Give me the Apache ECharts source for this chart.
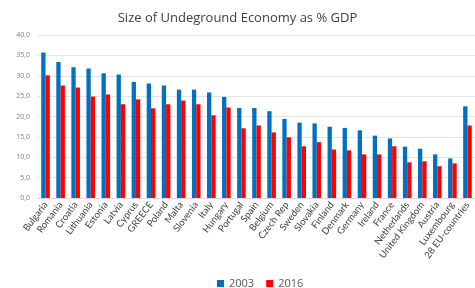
<!DOCTYPE html>
<html>
<head>
<meta charset="utf-8">
<script src="https://cdn.jsdelivr.net/npm/echarts@6/dist/echarts.min.js"></script>
<style>
html, body { margin: 0; padding: 0; background: #fff; }
#main { width: 475px; height: 288px; }
</style>
</head>
<body>
<div id="main"></div>
<script>
var countries = ['Bulgaria', 'Romania', 'Croatia', 'Lithuania', 'Estonia', 'Latvia', 'Cyprus', 'GREECE',
    'Poland', 'Malta', 'Slovenia', 'Italy', 'Hungary', 'Portugal', 'Spain', 'Belgium', 'Czech Rep',
    'Sweden', 'Slovakia', 'Finland', 'Denmark', 'Germany', 'Ireland', 'France', 'Netherlands',
    'United Kingdom', 'Austria', 'Luxembourg', '28 EU-countries'];
var values2003 = [35.7, 33.4, 32.1, 31.8, 30.6, 30.3, 28.5, 28.1, 27.6, 26.6, 26.6, 25.9, 24.8, 22.1,
    22.1, 21.3, 19.4, 18.5, 18.3, 17.5, 17.2, 16.6, 15.3, 14.6, 12.6, 12.1, 10.7, 9.7, 22.5];
var values2016 = [30.1, 27.6, 27.1, 24.9, 25.4, 23.0, 24.2, 22.0, 23.0, 23.9, 23.0, 20.3, 22.2, 17.1,
    17.8, 16.1, 14.9, 12.7, 13.7, 11.9, 11.7, 10.7, 10.7, 12.7, 8.75, 9.0, 7.8, 8.5, 17.8];

var myChart = echarts.init(document.getElementById('main'));

var option = {
    animation: false,
    title: {
        text: 'Size of Undeground Economy as % GDP',
        left: 'center',
        top: 7,
        textStyle: {
            fontFamily: 'Open Sans',
            fontSize: 13,
            fontWeight: 'normal',
            color: '#404040'
        }
    },
    legend: {
        data: ['2003', '2016'],
        top: 273,
        left: 212,
        itemWidth: 7,
        itemHeight: 7,
        itemGap: 12,
        icon: 'rect',
        textStyle: { fontFamily: 'Open Sans', fontSize: 11, color: '#595959' }
    },
    grid: {
        left: 38,
        right: -1,
        top: 35,
        bottom: 90
    },
    xAxis: [{
        type: 'category',
        data: countries,
        axisTick: { show: false },
        axisLine: { lineStyle: { color: '#d9d9d9' } },
        axisLabel: {
            interval: 0,
            rotate: 53,
            margin: 5,
            fontFamily: 'Lato',
            fontSize: 9.5,
            color: '#404040'
        }
    }],
    yAxis: [{
        type: 'value',
        min: 0,
        max: 40,
        interval: 5,
        axisLine: { show: false },
        axisTick: { show: false },
        splitLine: { lineStyle: { color: '#e3e3e3' } },
        axisLabel: {
            margin: 8,
            fontFamily: 'Open Sans',
            fontSize: 7,
            color: '#7f7f7f',
            formatter: function (v) { return v.toFixed(1).replace('.', ','); }
        }
    }],
    series: [{
        name: '2003',
        type: 'bar',
        data: values2003,
        barWidth: 4.3,
        barGap: '0%',
        itemStyle: { color: '#0070C0' }
    }, {
        name: '2016',
        type: 'bar',
        data: values2016,
        barWidth: 4.3,
        barGap: '0%',
        itemStyle: { color: '#FF0000' }
    }]
};

myChart.setOption(option);
</script>
</body>
</html>
